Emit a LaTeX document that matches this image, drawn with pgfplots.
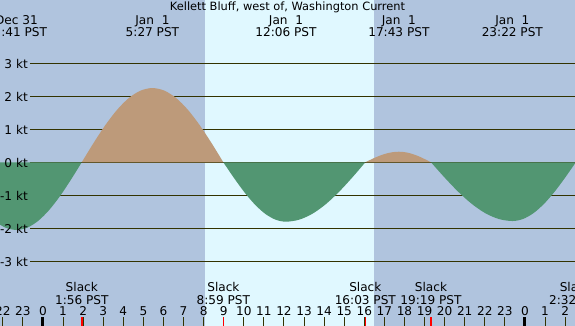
\documentclass[border=0pt]{standalone}
\usepackage{fontspec}
\setmainfont{DejaVu Sans}
\usepackage{pgfplots}
\pgfplotsset{compat=1.18}
\definecolor{bgc}{RGB}{176,196,222}
\definecolor{dayc}{RGB}{224,248,255}
\definecolor{ebbc}{RGB}{189,154,122}
\definecolor{floodc}{RGB}{82,150,114}
\definecolor{txtc}{RGB}{51,51,0}
\begin{document}
\begin{tikzpicture}
\begin{axis}[at={(0,0)},anchor=south west,
  width=575pt,height=326pt,scale only axis,
  xmin=-2.14,xmax=26.49,ymin=-4.961,ymax=4.918,
  hide axis, clip=true,
  every node/.style={text=txtc},
  font=\fontsize{12.1}{14}\selectfont]
% background and daylight
\fill[bgc] (rel axis cs:0,0) rectangle (rel axis cs:1,1);
\fill[dayc] (axis cs:8.07,-4.961) rectangle (axis cs:16.48,4.918);
% grid lines
\pgfplotsinvokeforeach{-3,...,3}{
  \draw[txtc, line width=1.1pt] (axis cs:-0.647,#1) -- (axis cs:26.6,#1);
}
% current lobes
\addplot[fill=floodc, draw=none, smooth] coordinates {
(-4.6,0) (-4.053,-0.531) (-3.507,-1.025) (-2.96,-1.449) (-2.413,-1.775) (-1.867,-1.980) (-1.32,-2.05) (-0.778,-1.980) (-0.237,-1.775) (0.305,-1.449) (0.847,-1.025) (1.388,-0.531) (1.93,0)
} \closedcycle;
\addplot[fill=ebbc, draw=none, smooth] coordinates {
(1.93,0) (2.517,0.583) (3.103,1.125) (3.69,1.591) (4.277,1.949) (4.863,2.173) (5.45,2.25) (6.038,2.173) (6.627,1.949) (7.215,1.591) (7.803,1.125) (8.392,0.583) (8.98,0)
} \closedcycle;
\addplot[fill=floodc, draw=none, smooth] coordinates {
(8.98,0) (9.5,-0.466) (10.02,-0.9) (10.54,-1.273) (11.06,-1.559) (11.58,-1.739) (12.1,-1.8) (12.758,-1.739) (13.417,-1.559) (14.075,-1.273) (14.733,-0.9) (15.392,-0.466) (16.05,0)
} \closedcycle;
\addplot[fill=ebbc, draw=none, smooth] coordinates {
(16.05,0) (16.328,0.083) (16.607,0.16) (16.885,0.226) (17.163,0.277) (17.442,0.309) (17.72,0.32) (17.987,0.309) (18.253,0.277) (18.52,0.226) (18.787,0.16) (19.053,0.083) (19.32,0)
} \closedcycle;
\addplot[fill=floodc, draw=none, smooth] coordinates {
(19.32,0) (19.995,-0.461) (20.67,-0.89) (21.345,-1.258) (22.02,-1.541) (22.695,-1.719) (23.37,-1.78) (23.897,-1.719) (24.423,-1.541) (24.95,-1.258) (25.477,-0.89) (26.003,-0.461) (26.53,0)
} \closedcycle;
% y labels
\foreach \v/\l in {3/3 kt,2/2 kt,1/1 kt,0/0 kt,-1/-1 kt,-2/-2 kt,-3/-3 kt}{
  \edef\tmp{\noexpand\node[anchor=base east, inner sep=0pt] at (axis cs:-0.747,\v-0.152) {\l};}\tmp
}
% hour ticks
\pgfplotsinvokeforeach{-2,...,26}{
  \draw[txtc, line width=1pt] (axis cs:#1,-4.97) -- (axis cs:#1,-4.70);
}
\draw[black, line width=3pt] (axis cs:0,-4.97) -- (axis cs:0,-4.70);
\draw[black, line width=3pt] (axis cs:24,-4.97) -- (axis cs:24,-4.70);
\pgfplotsinvokeforeach{1.933,8.983,16.05,19.317,26.533}{
  \draw[red, line width=1.4pt] (axis cs:#1,-4.97) -- (axis cs:#1,-4.70);
}
% hour labels
\foreach \h/\l in {-2/22,-1/23,0/0,1/1,2/2,3/3,4/4,5/5,6/6,7/7,8/8,9/9,10/10,11/11,12/12,13/13,14/14,15/15,16/16,17/17,18/18,19/19,20/20,21/21,22/22,23/23,24/0,25/1,26/2}{
  \edef\tmp{\noexpand\node[anchor=base, inner sep=0pt] at (axis cs:\h,-4.648) {\l};}\tmp
}
% slack labels
\foreach \h/\l in {1.933/1:56 PST,8.983/8:59 PST,16.05/16:03 PST,19.317/19:19 PST,26.533/2:32 PST}{
  \edef\tmp{\noexpand\node[anchor=base, inner sep=0pt] at (axis cs:\h,-3.930) {Slack};
  \noexpand\node[anchor=base, inner sep=0pt] at (axis cs:\h,-4.303) {\l};}\tmp
}
% max labels
\node[anchor=base, inner sep=0pt] at (axis cs:-1.32,4.182) {Dec 31};
\node[anchor=base, inner sep=0pt] at (axis cs:-1.32,3.827) {22:41 PST};
\foreach \h/\l in {5.45/5:27 PST,12.1/12:06 PST,17.72/17:43 PST,23.37/23:22 PST}{
  \edef\tmp{\noexpand\node[anchor=base, inner sep=0pt] at (axis cs:\h,4.182) {Jan\noexpand\ \noexpand\ 1};
  \noexpand\node[anchor=base, inner sep=0pt] at (axis cs:\h,3.827) {\l};}\tmp
}
% title
\node[anchor=base, inner sep=0pt, font=\fontsize{11.4}{13}\selectfont] at (rel axis cs:0.5,0) [yshift=315.7pt] {Kellett Bluff, west of, Washington Current};
\end{axis}
\pgfresetboundingbox
\path[use as bounding box] (0,0) rectangle (575pt,326pt);
\end{tikzpicture}
\end{document}
